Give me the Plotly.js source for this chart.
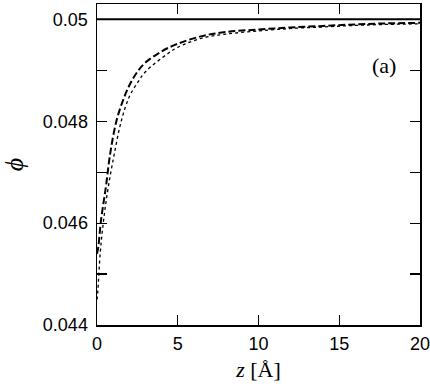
<!DOCTYPE html>
<html>
<head>
<meta charset="utf-8">
<script src="https://cdn.plot.ly/plotly-3.0.1.min.js"></script>
<style>
body { margin: 0; padding: 0; background: white; }
#graph { width: 430px; height: 384px; }
</style>
</head>
<body>
<div id="graph"></div>
<script>
// bulk value (solid line)
let z_bulk = [0, 20];
let phi_bulk = [0.05, 0.05];

// dashed curve
let z_dash = [0, 0.08, 0.25, 0.55, 0.82, 1.2, 1.6, 2.0, 2.5, 3, 4, 5, 6.5, 8, 10, 12, 14, 16, 18, 20];
let phi_dash = [0.0454, 0.04553, 0.04606, 0.04671, 0.04737, 0.04800, 0.04840, 0.04870, 0.04897, 0.04915,
    0.04937, 0.04952, 0.04967, 0.04975, 0.04980, 0.04984, 0.04987, 0.04990, 0.04992, 0.04993];

// dotted curve
let z_dot = [0, 0.04, 0.2, 0.41, 0.7, 1.08, 1.5, 2.0, 2.5, 3, 4.4, 5, 6.5, 8, 10, 12, 14, 16, 18, 20];
let phi_dot = [0.0445, 0.04462, 0.04541, 0.04606, 0.04671, 0.04737, 0.04800, 0.04848, 0.04875, 0.04897,
    0.04933, 0.04945, 0.04963, 0.04971, 0.04977, 0.04982, 0.04985, 0.04988, 0.04990, 0.04991];

let y_tickvals = [0.044, 0.045, 0.046, 0.047, 0.048, 0.049, 0.05];
let y_ticktext = ['0.044', '', '0.046', '', '0.048', '', '0.05'];
let x_tickvals = [0, 5, 10, 15, 20];

const serif = '"Liberation Serif", "Times New Roman", serif';

let traces = [
    {
        x: z_bulk, y: phi_bulk, mode: 'lines', type: 'scatter',
        line: { color: 'black', width: 2 }
    },
    {
        x: z_dash, y: phi_dash, mode: 'lines', type: 'scatter',
        line: { color: 'black', width: 2, dash: '7px,3px', shape: 'spline' }
    },
    {
        x: z_dot, y: phi_dot, mode: 'lines', type: 'scatter',
        line: { color: 'black', width: 1.3, dash: 'dot', shape: 'spline' }
    }
];

let layout = {
    width: 430,
    height: 384,
    margin: { l: 97, r: 10, t: 4, b: 59 },
    showlegend: false,
    plot_bgcolor: 'white',
    paper_bgcolor: 'white',
    font: { family: '"Liberation Sans", Arial, sans-serif', size: 18, color: 'black' },
    xaxis: {
        range: [0, 20],
        tickvals: x_tickvals,
        ticks: 'inside',
        ticklen: 10,
        tickwidth: 1.2,
        tickcolor: 'black',
        showline: true,
        linecolor: 'black',
        linewidth: 1.5,
        mirror: 'ticks',
        showgrid: false,
        zeroline: false,
        ticklabelstandoff: 2,
        ticklabeloverflow: 'allow',
        title: { text: '<i>z</i> [Å]', font: { family: serif, size: 22 }, standoff: 8 }
    },
    yaxis: {
        range: [0.044, 0.0503],
        tickvals: y_tickvals,
        ticktext: y_ticktext,
        ticks: 'inside',
        ticklen: 10,
        tickwidth: 1.2,
        tickcolor: 'black',
        showline: true,
        linecolor: 'black',
        linewidth: 1.5,
        mirror: 'ticks',
        showgrid: false,
        zeroline: false,
        ticklabelstandoff: 4,
        ticklabeloverflow: 'allow',
        title: { text: '<i>ϕ</i>', font: { family: serif, size: 26 }, standoff: 20 }
    },
    annotations: [{
        text: '(a)', xref: 'x', yref: 'y', x: 17.8, y: 0.0491,
        showarrow: false,
        font: { family: serif, size: 22, color: 'black' }
    }]
};

Plotly.newPlot('graph', traces, layout, { staticPlot: true });
</script>
</body>
</html>
